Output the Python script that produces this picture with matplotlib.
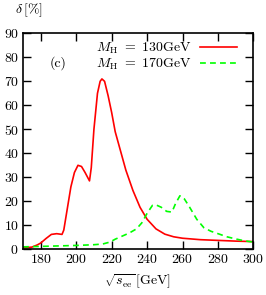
import matplotlib
matplotlib.use("Agg")
import matplotlib.pyplot as plt

plt.rcParams['font.family'] = ['cmr10', 'DejaVu Serif']
plt.rcParams['mathtext.fontset'] = 'cm'
plt.rcParams['axes.formatter.use_mathtext'] = True

x_130 = [170, 175, 178, 180, 183, 186, 189, 192, 193, 195, 197, 199, 201, 203, 205, 207.5, 208.5,
         210, 212, 213.5, 214.5, 216, 218, 220, 222, 225, 228, 232, 236, 240, 245, 250, 255, 260,
         270, 280, 290, 300]
y_130 = [0.6, 0.9, 1.8, 2.6, 4.5, 6.2, 6.5, 6.2, 8, 17, 26, 32, 35, 34.5, 32, 28.5, 34,
         50, 65, 70, 71, 70, 64, 57, 49, 41, 33, 24.5, 17.5, 12.5, 8.5, 6.3, 5.2, 4.6,
         4.0, 3.7, 3.4, 3.2]
x_170 = [170, 180, 190, 200, 210, 215, 219, 222, 226, 230, 234, 237, 240, 243, 245, 248, 251, 254,
         256, 258.5, 261, 264, 268, 272, 276, 280, 285, 290, 295, 300]
y_170 = [1.0, 1.2, 1.4, 1.6, 1.9, 2.2, 3.0, 4.2, 5.5, 6.8, 8.5, 11, 15, 18.3, 18.5, 17.5, 15.8, 15.5,
         19, 22.3, 21, 17.5, 12.5, 9, 7.5, 6.5, 5.2, 4.3, 3.5, 3.0]
xticks = [180, 200, 220, 240, 260, 280, 300]
yticks = [0, 10, 20, 30, 40, 50, 60, 70, 80, 90]

FS = 10
fig = plt.figure(figsize=(2.66, 2.95), dpi=100)
ax = fig.add_axes([0.0865, 0.155, 0.8665, 0.732])
ax.plot(x_130, y_130, color='#ff0000', lw=1.2, label=r'$M_{\mathrm{H}}\ =\ 130$GeV')
ax.plot(x_170, y_170, color='#00ff00', lw=1.2, dashes=(3.5, 2.5), label=r'$M_{\mathrm{H}}\ =\ 170$GeV')
ax.set_xlim(170, 300)
ax.set_ylim(0, 90)
ax.set_xticks(xticks)
ax.set_yticks(yticks)
ax.tick_params(direction='in', top=True, right=True, length=6, width=1, labelsize=FS, pad=3)
for s in ax.spines.values():
    s.set_linewidth(1.2)
leg = ax.legend(loc='upper right', frameon=False, markerfirst=False, fontsize=FS,
                handlelength=2.66, borderaxespad=0.0, labelspacing=0.0, handletextpad=0.6,
                bbox_to_anchor=(0.951, 0.99))
ax.text(0.15, 0.862, '(c)', transform=ax.transAxes, fontsize=FS, ha='center', va='center')
fig.text(0.108, 0.966, r'$\delta\,$[%]', fontsize=FS, ha='center', va='center')
fig.text(0.515, 0.045, r'$\sqrt{s_{\mathrm{ee}}}\,$[GeV]', fontsize=FS, ha='center', va='center')
fig.savefig('out.png', dpi=100)
